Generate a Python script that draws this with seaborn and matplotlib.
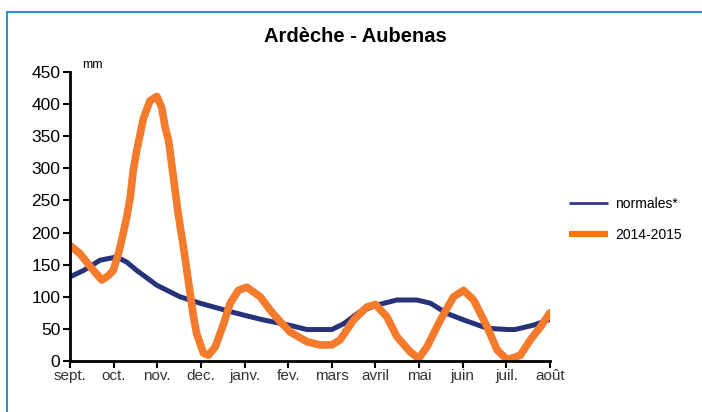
import seaborn as sns
import pandas as pd
import matplotlib.pyplot as plt
from matplotlib.lines import Line2D
from matplotlib.patches import Rectangle

# month labels (x positions 0..11)
months = ['sept.', 'oct.', 'nov.', 'dec.', 'janv.', 'fev.', 'mars', 'avril', 'mai', 'juin', 'juil.', 'août']

# normales* : points (month position, mm)
norm_x = [0, 0.31, 0.69, 1.07, 1.3, 1.53, 1.99, 2.52, 2.98, 3.67, 4.01, 4.43, 5.01, 5.43,
          6.0, 6.27, 6.65, 7.03, 7.49, 7.95, 8.26, 8.64, 9.02, 9.56, 10.02, 10.2, 10.63, 11.0]
norm_y = [131, 141, 157, 162, 154, 141, 118, 100, 90, 77, 71, 64, 56, 49,
          49, 58, 77, 87, 95, 95, 90, 74, 64, 51, 49, 49, 56, 65]

# 2014-2015 : points (month position, mm)
cur_x = [0.0, 0.23, 0.5, 0.73, 0.88, 0.99, 1.11, 1.2, 1.3, 1.38, 1.45, 1.53, 1.68, 1.83,
         1.99, 2.1, 2.18, 2.26, 2.37, 2.48, 2.6, 2.71, 2.83, 2.9, 3.06, 3.17, 3.33, 3.52,
         3.67, 3.86, 4.05, 4.36, 4.59, 4.82, 5.05, 5.43, 5.73, 6.0, 6.19, 6.5, 6.8, 7.0,
         7.26, 7.49, 7.8, 7.99, 8.18, 8.49, 8.79, 9.02, 9.25, 9.56, 9.79, 10.02, 10.32,
         10.55, 10.78, 11.0]
cur_y = [180, 167, 144, 126, 133, 141, 167, 193, 224, 255, 297, 328, 377, 405,
         412, 395, 364, 343, 286, 229, 177, 126, 69, 43, 12, 9, 22, 58,
         90, 110, 115, 100, 79, 61, 45, 30, 25, 25, 33, 64, 84, 88,
         69, 38, 14, 4, 22, 64, 100, 110, 95, 53, 17, 2, 9,
         33, 53, 75]

BLUE = '#26337a'
ORANGE = '#f47a2c'

sns.set_style('white')
plt.rcParams['font.family'] = ['Liberation Sans', 'DejaVu Sans']
plt.rcParams['text.color'] = 'black'
plt.rcParams['xtick.color'] = 'black'
plt.rcParams['ytick.color'] = 'black'

fig = plt.figure(figsize=(7.02, 4.12), dpi=100)
ax = fig.add_axes([70 / 702, 51 / 412, 480 / 702, 289 / 412])

df_n = pd.DataFrame({'x': norm_x, 'y': norm_y})
df_c = pd.DataFrame({'x': cur_x, 'y': cur_y})
sns.lineplot(data=df_n, x='x', y='y', ax=ax, color=BLUE, linewidth=3.6, sort=False)
sns.lineplot(data=df_c, x='x', y='y', ax=ax, color=ORANGE, linewidth=5.5, sort=False,
             solid_joinstyle='round', solid_capstyle='round')

ax.set_xlim(0, 11)
ax.set_ylim(0, 450)
ax.set_xticks(range(len(months)))
ax.set_xticklabels(months, fontsize=11)
ax.set_yticks(range(0, 451, 50))
ax.tick_params(axis='y', labelsize=12.5, length=5, width=1.5, direction='out', pad=2, left=True,
               labelcolor='black')
ax.tick_params(axis='x', length=5, width=1.5, direction='out', pad=1, bottom=True,
               labelcolor='#333333')
ax.set_xlabel('')
ax.set_ylabel('')
sns.despine(ax=ax)
for s in ['left', 'bottom']:
    ax.spines[s].set_color('black')
    ax.spines[s].set_linewidth(2)

ax.text(0.025, 1.005, 'mm', transform=ax.transAxes, fontsize=9, va='bottom', ha='left')
fig.text(355 / 702, 1 - 37 / 412, 'Ardèche - Aubenas', fontsize=14.5, fontweight='bold',
         ha='center', va='center', color='black')

handles = [Line2D([], [], color='#34369a', linewidth=2, solid_capstyle='butt'),
           Line2D([], [], color='#ff7700', linewidth=4.5, solid_capstyle='butt')]
fig.legend(handles, ['normales*', '2014-2015'], loc='center left',
           bbox_to_anchor=(0.793, 0.468), frameon=False, fontsize=10,
           handlelength=2.8, handletextpad=0.5, labelspacing=1.2)

fig.patches.append(Rectangle((7 / 702, -0.1), 1.0, 1.1 - 12 / 412, transform=fig.transFigure,
                             fill=False, edgecolor='#2a93d5', linewidth=1.5))

plt.savefig('out.png', dpi=100)
plt.close()
